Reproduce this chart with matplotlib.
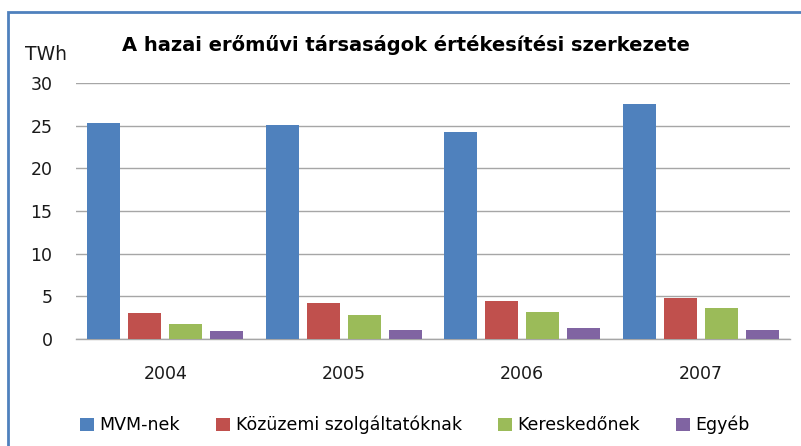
import matplotlib

matplotlib.use("Agg")
import matplotlib.pyplot as plt
import numpy as np
from matplotlib.patches import Rectangle

years = ["2004", "2005", "2006", "2007"]
series_names = ["MVM-nek", "Közüzemi szolgáltatóknak", "Kereskedőnek", "Egyéb"]
mvm = [25.3, 25.1, 24.3, 27.5]
kozuzemi = [3.0, 4.2, 4.4, 4.85]
kereskedo = [1.75, 2.8, 3.2, 3.6]
egyeb = [0.9, 1.0, 1.3, 1.1]
yticks = [0, 5, 10, 15, 20, 25, 30]

colors = ["#4F81BD", "#C0504D", "#9BBB59", "#8064A2"]

plt.rcParams["font.family"] = ["DejaVu Sans"]

fig = plt.figure(figsize=(8.01, 4.46), dpi=100)
ax = fig.add_axes([76 / 801, 1 - 339 / 446, (790 - 76) / 801, (339 - 83) / 446])

x = np.arange(len(years))
step = 0.23
width = 0.185
for i, (vals, name) in enumerate(zip([mvm, kozuzemi, kereskedo, egyeb], series_names)):
    ax.bar(x + (i - 1.5) * step, vals, width, color=colors[i], label=name, zorder=3)

ax.set_xlim(-0.5, 3.5)
ax.set_ylim(0, 30)
ax.set_yticks(yticks)
ax.set_xticks(x)
ax.set_xticklabels(years)
ax.grid(axis="y", color="#A6A6A6", linewidth=1.0, zorder=0)
for s in ["top", "right", "left"]:
    ax.spines[s].set_visible(False)
ax.spines["bottom"].set_color("#A6A6A6")
ax.spines["bottom"].set_linewidth(1.0)
ax.tick_params(axis="both", length=0, labelsize=12.5, colors="#1a1a1a")
ax.tick_params(axis="y", pad=17)
ax.tick_params(axis="x", pad=19)

fig.text(406 / 801, 1 - 45 / 446, "A hazai erőművi társaságok értékesítési szerkezete",
         ha="center", va="center", fontsize=14, fontweight="bold")
fig.text(25 / 801, 1 - 54 / 446, "TWh", ha="left", va="center", fontsize=13.5, color="#1a1a1a")

fig.legend(loc="center", bbox_to_anchor=(415 / 801, 1 - 425 / 446), ncol=4, frameon=False,
           fontsize=12.5, handlelength=0.8, handleheight=0.8, handletextpad=0.3,
           columnspacing=2.1)

fig.patches.append(Rectangle((8 / 801, -0.2), 1.2, 1.2 - 12 / 446,
                             transform=fig.transFigure, fill=False,
                             edgecolor="#4F81BD", linewidth=2.0))

fig.savefig("out.png", dpi=100)
